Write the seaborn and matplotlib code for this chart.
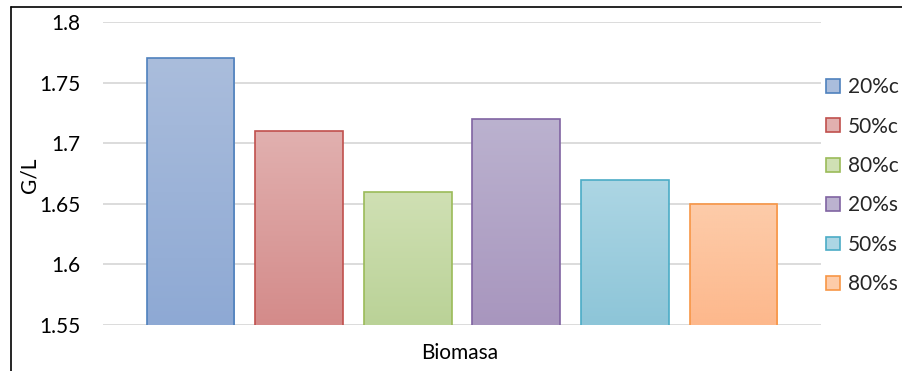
import numpy as np
import pandas as pd
import matplotlib
matplotlib.use("Agg")
import matplotlib.pyplot as plt
from matplotlib.colors import LinearSegmentedColormap
from matplotlib.patches import Patch
from matplotlib.lines import Line2D
import seaborn as sns

categories = ["20%c", "50%c", "80%c", "20%s", "50%s", "80%s"]
values = [1.77, 1.71, 1.66, 1.72, 1.67, 1.65]
group_label = "Biomasa"
y_ticks = [1.55, 1.6, 1.65, 1.7, 1.75, 1.8]
y_tick_labels = ["1.55", "1.6", "1.65", "1.7", "1.75", "1.8"]

edge_colors = ["#4F81BD", "#C0504D", "#9BBB59", "#8064A2", "#4BACC6", "#F79646"]
top_colors = ["#AABDDC", "#E1B0AF", "#D0E0B4", "#BBB2CF", "#ADD6E4", "#FDCCAA"]
bottom_colors = ["#8EA9D4", "#D48B8A", "#BAD297", "#A896BE", "#8DC5D8", "#FDB88C"]

FS = 15

sns.set_theme(style="white")
plt.rcParams["font.family"] = ["Lato", "DejaVu Sans"]

df = pd.DataFrame({"grupo": [group_label] * len(categories),
                   "serie": categories,
                   "valor": values})

fig = plt.figure(figsize=(9.02, 3.71), dpi=100)
ax = fig.add_axes([103 / 902, 1 - 325 / 371, (821 - 103) / 902, (325 - 22) / 371])

sns.barplot(data=df, x="grupo", y="valor", hue="serie", hue_order=categories,
            palette=edge_colors, width=0.9075, gap=0.19, legend=False, ax=ax,
            linewidth=1.2, saturation=1)

ax.set_ylim(1.55, 1.8)
xlim = ax.get_xlim()

# gradient fill inside each bar, clipped to the bar outline
for patch, ec, tc, bc in zip(ax.patches, edge_colors, top_colors, bottom_colors):
    patch.set_edgecolor(ec)
    patch.set_facecolor("none")
    patch.set_zorder(4)
    x0, y0 = patch.get_x(), patch.get_y()
    w, h = patch.get_width(), patch.get_height()
    y_base = 1.55
    cmap = LinearSegmentedColormap.from_list("g", [bc, tc])
    grad = np.linspace(0, 1, 256).reshape(-1, 1)
    im = ax.imshow(grad, cmap=cmap, origin="lower", aspect="auto",
                   extent=(x0, x0 + w, y_base, y0 + h), zorder=3,
                   interpolation="bilinear")
    im.set_clip_path(patch)

ax.set_xlim(xlim)
ax.set_ylim(1.55, 1.8)

ax.set_yticks(y_ticks)
ax.set_yticklabels(y_tick_labels, fontsize=FS, color="black")
ax.tick_params(axis="y", length=0, pad=16.5)
ax.set_xticks([])
ax.grid(axis="y", color="#D9D9D9", linewidth=1.3, zorder=0)
ax.set_axisbelow(True)
for s in ax.spines.values():
    s.set_visible(False)

ax.set_xlabel("")
ax.set_ylabel("")
fig.text(460 / 902, 1 - 353 / 371, group_label, ha="center", va="center",
         fontsize=FS, color="black")
fig.text(30 / 902, 1 - 175 / 371, "G/L", ha="center", va="center",
         rotation=90, fontsize=FS, color="black")

handles = [Patch(facecolor=bc, edgecolor=ec, linewidth=1.2)
           for ec, bc in zip(edge_colors, top_colors)]
fig.legend(handles, categories, loc="upper left",
           bbox_to_anchor=(818 / 902, 1 - 69 / 371), frameon=False,
           fontsize=FS, handlelength=0.65, handleheight=0.65,
           handletextpad=0.4, labelspacing=0.93, borderaxespad=0)

# outer chart frame (left and top edges)
fig.add_artist(Line2D([10.5 / 902, 10.5 / 902], [0, 1 - 7 / 371],
                      transform=fig.transFigure, color="black", linewidth=1.2))
fig.add_artist(Line2D([10.5 / 902, 1], [1 - 7 / 371, 1 - 7 / 371],
                      transform=fig.transFigure, color="black", linewidth=1.2))

fig.savefig("out.png", dpi=100)
